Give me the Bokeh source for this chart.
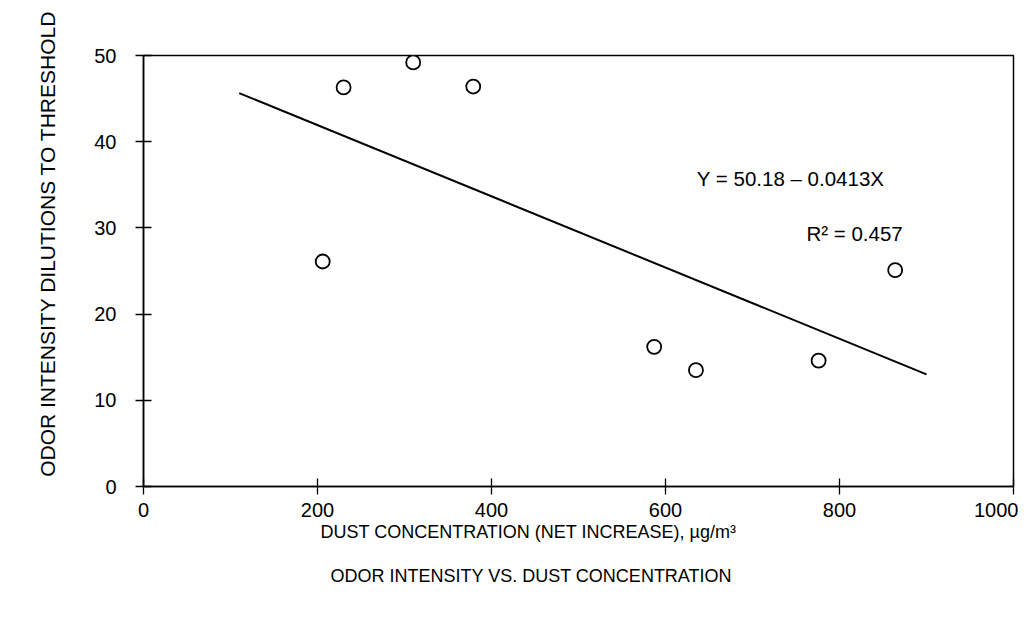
from bokeh.plotting import figure
from bokeh.models import Range1d, Label, FixedTicker, Title
from bokeh.embed import file_html
from bokeh.resources import INLINE

# data
dust = [206, 230, 310, 379, 587, 635, 776, 864]
odor = [26.1, 46.3, 49.2, 46.4, 16.2, 13.5, 14.6, 25.1]
fit_intercept = 50.18
fit_slope = -0.0413
fit_x = [110, 900]
x_ticks = [0, 200, 400, 600, 800, 1000]
y_ticks = [0, 10, 20, 30, 40, 50]

FONT = "Liberation Sans"

p = figure(frame_width=870, frame_height=431, output_backend="svg",
           toolbar_location=None, x_range=Range1d(0, 1000), y_range=Range1d(0, 50),
           min_border_left=143, min_border_right=5, min_border_top=55, min_border_bottom=116)
p.background_fill_color = "white"
p.border_fill_color = "white"
p.outline_line_color = "black"
p.outline_line_width = 1.5
p.grid.visible = False

for ax in (p.xaxis[0], p.yaxis[0]):
    ax.axis_line_color = "black"
    ax.axis_line_width = 1.5
    ax.major_tick_line_color = "black"
    ax.major_tick_line_width = 1.3
    ax.major_tick_in = 8
    ax.major_tick_out = 8
    ax.minor_tick_line_color = None
    ax.major_label_text_font = FONT
    ax.major_label_text_font_size = "20px"
    ax.major_label_text_color = "black"

p.xaxis[0].ticker = FixedTicker(ticks=x_ticks)
p.yaxis[0].ticker = FixedTicker(ticks=y_ticks)
p.xaxis[0].major_label_standoff = 8
p.yaxis[0].major_label_standoff = 19

fit_y = [fit_intercept + fit_slope * v for v in fit_x]
p.line(fit_x, fit_y, line_color="black", line_width=2)
p.scatter(dust, odor, marker="circle", size=14, fill_color="white",
          line_color="black", line_width=1.8)

p.add_layout(Label(x=636, y=35.7, text="Y = 50.18 \u2013 0.0413X", text_font=FONT,
                   text_font_size="20.5px", text_baseline="middle", text_color="black"))
p.add_layout(Label(x=762, y=29.3, text="R\u00b2 = 0.457", text_font=FONT,
                   text_font_size="20.5px", text_baseline="middle", text_color="black"))

p.add_layout(Title(text="ODOR INTENSITY DILUTIONS TO THRESHOLD", align="right", offset=-45,
                   vertical_align="top", standoff=62, text_font=FONT, text_font_size="21px",
                   text_font_style="normal", text_color="black"), "left")
p.add_layout(Title(text="DUST CONCENTRATION (NET INCREASE), \u00b5g/m\u00b3", align="left",
                   offset=177, standoff=1, text_font=FONT, text_font_size="18px",
                   text_font_style="normal", text_color="black"), "below")
p.add_layout(Title(text="ODOR INTENSITY VS. DUST CONCENTRATION", align="left", offset=187,
                   standoff=42, text_font=FONT, text_font_size="18px",
                   text_font_style="normal", text_color="black"), "below")

open("out.html", "w").write(file_html(p, INLINE))
